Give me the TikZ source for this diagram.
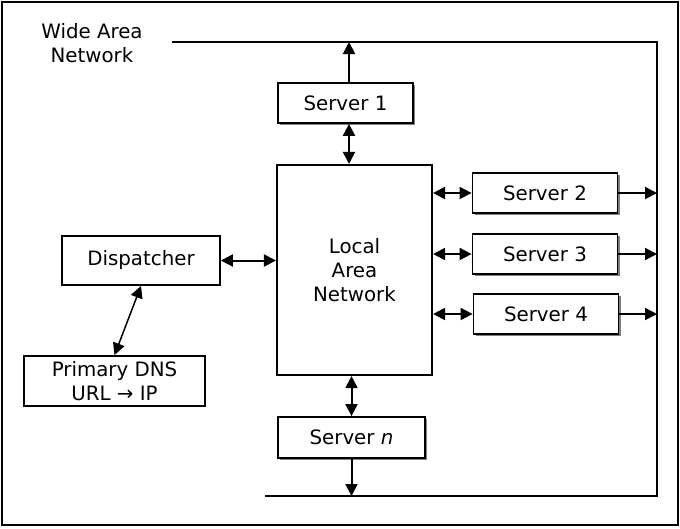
\documentclass[tikz,border=0pt]{standalone}
\usepackage{fontspec}
\setmainfont{DejaVu Sans}
\usetikzlibrary{arrows.meta,shadows}
\begin{document}
\begin{tikzpicture}[x=1pt,y=-1pt,
  font=\fontsize{19.8}{24}\selectfont,
  box/.style={draw,line width=1.8pt,fill=white,inner sep=0pt,align=center},
  srv/.style={box,minimum height=40pt,
    drop shadow={shadow xshift=2pt,shadow yshift=-2pt,fill=black!50,opacity=1}},
  tip/.tip={Triangle[length=12pt,width=12pt]},
  link/.style={line width=2pt,-tip},
  dlink/.style={line width=2pt,tip-tip},
  wan/.style={line width=2pt}]
\useasboundingbox (0,0) rectangle (680,528);
% outer frame
\draw[line width=2.2pt] (2,2) rectangle (678,525);

% wide area network
\node[align=center] (wanlabel) at (92,43) {Wide Area\\Network};
\coordinate (wanTL) at (172,42);
\coordinate (wanTR) at (657,42);
\coordinate (wanBR) at (657,496);
\coordinate (wanBL) at (265,496);
\draw[wan] (wanTL) -- (wanTR) -- (wanBR) -- (wanBL);

% local area network
\node[box,line width=2.1pt,minimum width=155pt,minimum height=210pt] (lan) at (354.5,270) {Local\\Area\\Network};

% servers
\node[srv,minimum width=135pt] (s1) at (345.5,103) {Server 1};
\node[srv,minimum width=145pt] (s2) at (545,193) {Server 2};
\node[srv,minimum width=145pt] (s3) at (545,254) {Server 3};
\node[srv,minimum width=145pt] (s4) at (546,314) {Server 4};
\node[srv,minimum width=147pt,minimum height=41pt] (sn) at (351.5,437.5) {Server \textit{n}};

% dispatcher and DNS
\node[box,minimum width=158pt,minimum height=49pt] (disp) at (141,260.5) {Dispatcher};
\node[box,minimum width=181pt,minimum height=50pt] (dns) at (114.5,381) {Primary DNS\\URL → IP};

% connections to the wide area network
\draw[link] ([xshift=3.5pt]s1.north) -- ([xshift=3.5pt]s1.north |- wanTL);
\draw[link] (s2.east) -- (s2.east -| wanTR);
\draw[link] (s3.east) -- (s3.east -| wanTR);
\draw[link] (s4.east) -- (s4.east -| wanTR);
\draw[link] (sn.south) -- (sn.south |- wanBL);

% connections to the local area network
\draw[dlink] ([xshift=3.5pt]s1.south) -- ([xshift=3.5pt]s1.south |- lan.north);
\draw[dlink] (s2.west -| lan.east) -- (s2.west);
\draw[dlink] (s3.west -| lan.east) -- (s3.west);
\draw[dlink] (s4.west -| lan.east) -- (s4.west);
\draw[dlink] (sn.north |- lan.south) -- (sn.north);
\draw[dlink] (disp.east) -- (disp.east -| lan.west);
\draw[dlink,line width=1.5pt] (dns.north) -- (disp.south);
\end{tikzpicture}
\end{document}
